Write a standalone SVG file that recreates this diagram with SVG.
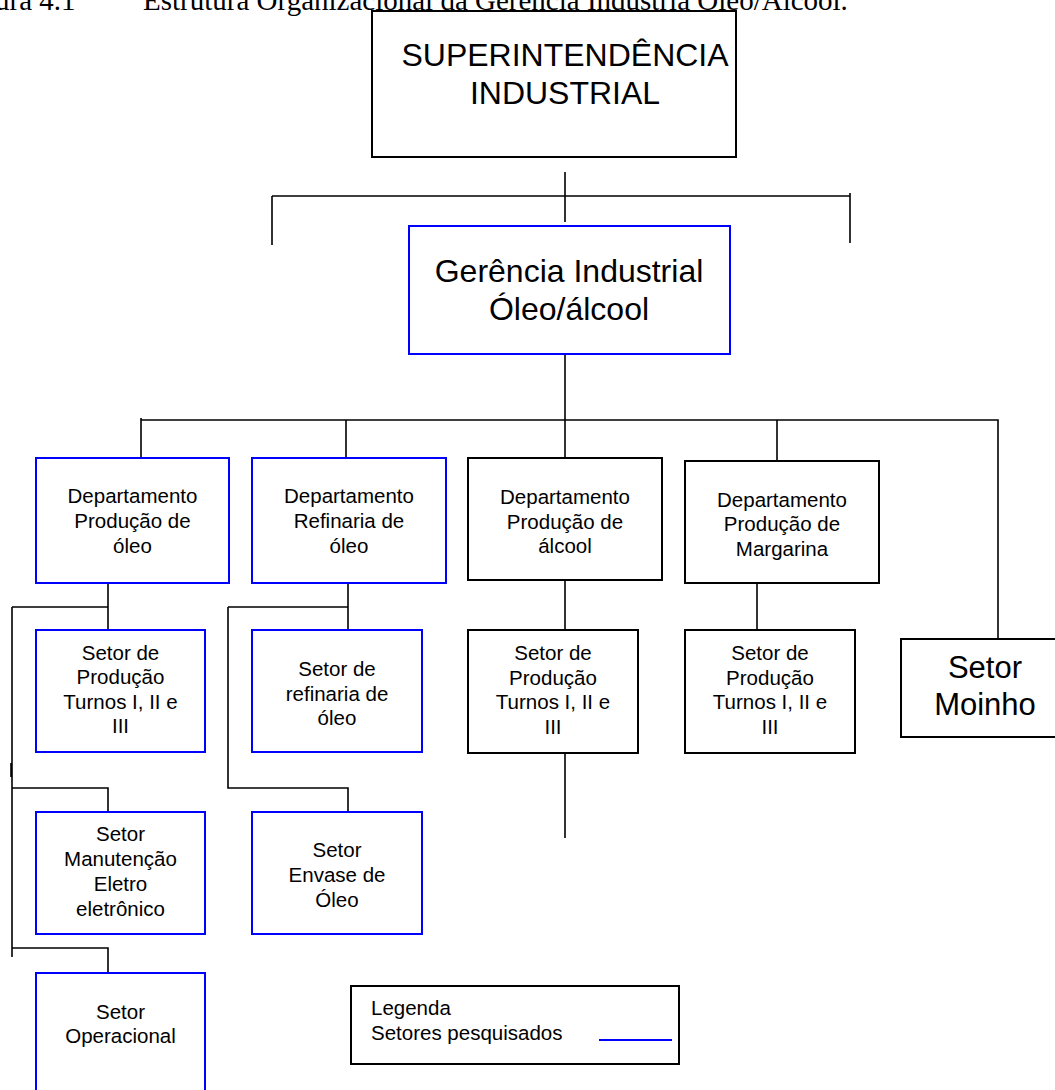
<svg xmlns="http://www.w3.org/2000/svg" width="1055" height="1090" viewBox="0 0 1055 1090">
<style>
  .box{fill:#fff;stroke:#000;stroke-width:2}
  .sel{stroke:#0000ff}
  .lbl{font-family:"Liberation Sans",Arial,sans-serif;font-size:20.5px;fill:#000;text-anchor:middle}
  .big{font-size:32px}
  .mid{font-size:31px}
  .left{text-anchor:start}
  .wire{fill:none;stroke:#000;stroke-width:1.6}
  .cap{font-family:"Liberation Serif","Times New Roman",serif;font-size:29px;fill:#000}
</style>
<rect width="1055" height="1090" fill="#fff"/>

<!-- caption -->
<text class="cap"><tspan x="-5" y="10">ura 4.1</tspan><tspan x="143" y="10">Estrutura Organizacional da Gerência Industria Óleo/Álcool.</tspan></text>

<!-- connectors -->
<g id="connectors" class="wire">
  <path d="M565 172V222M272 196H850M272 196V245M850 193V243"/>
  <path d="M565 349V458"/>
  <path d="M141 420H998V639M141 418V460M346 420V458M777 420V461"/>
  <path d="M108 583V630M12 607H108M12 607V957M12 788H108V812M12 948H108V973M11 763V777"/>
  <path d="M348 583V630M228 607H348M228 607V788H348V812"/>
  <path d="M565 580V630M565 753V838"/>
  <path d="M757 583V630"/>
</g>

<g id="superintendencia">
  <rect class="box" x="372" y="11" width="364" height="146"/>
  <text class="lbl big"><tspan x="565" y="66">SUPERINTENDÊNCIA</tspan><tspan x="565" y="104">INDUSTRIAL</tspan></text>
</g>

<g id="gerencia">
  <rect class="box sel" x="409" y="226" width="321" height="128"/>
  <text class="lbl big"><tspan x="569" y="282">Gerência Industrial</tspan><tspan x="569" y="320">Óleo/álcool</tspan></text>
</g>

<g id="dep-producao-oleo">
  <rect class="box sel" x="36" y="458" width="193" height="125"/>
  <text class="lbl"><tspan x="132.5" y="503">Departamento</tspan><tspan x="132.5" y="528">Produção de</tspan><tspan x="132.5" y="553">óleo</tspan></text>
</g>

<g id="dep-refinaria-oleo">
  <rect class="box sel" x="252" y="458" width="194" height="125"/>
  <text class="lbl"><tspan x="349" y="503">Departamento</tspan><tspan x="349" y="528">Refinaria de</tspan><tspan x="349" y="553">óleo</tspan></text>
</g>

<g id="dep-producao-alcool">
  <rect class="box" x="468" y="458" width="194" height="122"/>
  <text class="lbl"><tspan x="565" y="504">Departamento</tspan><tspan x="565" y="529">Produção de</tspan><tspan x="565" y="553">álcool</tspan></text>
</g>

<g id="dep-producao-margarina">
  <rect class="box" x="685" y="461" width="194" height="122"/>
  <text class="lbl"><tspan x="782" y="506.5">Departamento</tspan><tspan x="782" y="531">Produção de</tspan><tspan x="782" y="556">Margarina</tspan></text>
</g>

<g id="setor-moinho">
  <rect class="box" x="901" y="639" width="170" height="98"/>
  <text class="lbl mid"><tspan x="985" y="678">Setor</tspan><tspan x="985" y="714.5">Moinho</tspan></text>
</g>

<g id="setor-producao-oleo">
  <rect class="box sel" x="36" y="630" width="169" height="122"/>
  <text class="lbl"><tspan x="120.5" y="659.5">Setor de</tspan><tspan x="120.5" y="684">Produção</tspan><tspan x="120.5" y="708.5">Turnos I, II e</tspan><tspan x="120.5" y="733">III</tspan></text>
</g>

<g id="setor-refinaria-oleo">
  <rect class="box sel" x="252" y="630" width="170" height="122"/>
  <text class="lbl"><tspan x="337" y="676">Setor de</tspan><tspan x="337" y="700.5">refinaria de</tspan><tspan x="337" y="725">óleo</tspan></text>
</g>

<g id="setor-producao-alcool">
  <rect class="box" x="468" y="630" width="170" height="123"/>
  <text class="lbl"><tspan x="553" y="660">Setor de</tspan><tspan x="553" y="684.5">Produção</tspan><tspan x="553" y="709">Turnos I, II e</tspan><tspan x="553" y="733.5">III</tspan></text>
</g>

<g id="setor-producao-margarina">
  <rect class="box" x="685" y="630" width="170" height="123"/>
  <text class="lbl"><tspan x="770" y="660">Setor de</tspan><tspan x="770" y="684.5">Produção</tspan><tspan x="770" y="709">Turnos I, II e</tspan><tspan x="770" y="733.5">III</tspan></text>
</g>

<g id="setor-manutencao">
  <rect class="box sel" x="36" y="812" width="169" height="122"/>
  <text class="lbl"><tspan x="120.5" y="841">Setor</tspan><tspan x="120.5" y="866">Manutenção</tspan><tspan x="120.5" y="890.5">Eletro</tspan><tspan x="120.5" y="915.5">eletrônico</tspan></text>
</g>

<g id="setor-envase">
  <rect class="box sel" x="252" y="812" width="170" height="122"/>
  <text class="lbl"><tspan x="337" y="857">Setor</tspan><tspan x="337" y="882">Envase de</tspan><tspan x="337" y="907">Óleo</tspan></text>
</g>

<g id="setor-operacional">
  <rect class="box sel" x="36" y="973" width="169" height="130"/>
  <text class="lbl"><tspan x="120.5" y="1019">Setor</tspan><tspan x="120.5" y="1043">Operacional</tspan></text>
</g>

<g id="legenda">
  <rect class="box" x="351" y="986" width="328" height="78"/>
  <text class="lbl left"><tspan x="371" y="1015">Legenda</tspan><tspan x="371" y="1040">Setores pesquisados</tspan></text>
  <line x1="599" y1="1040" x2="672" y2="1040" stroke="#0000ff" stroke-width="2"/>
</g>
</svg>
